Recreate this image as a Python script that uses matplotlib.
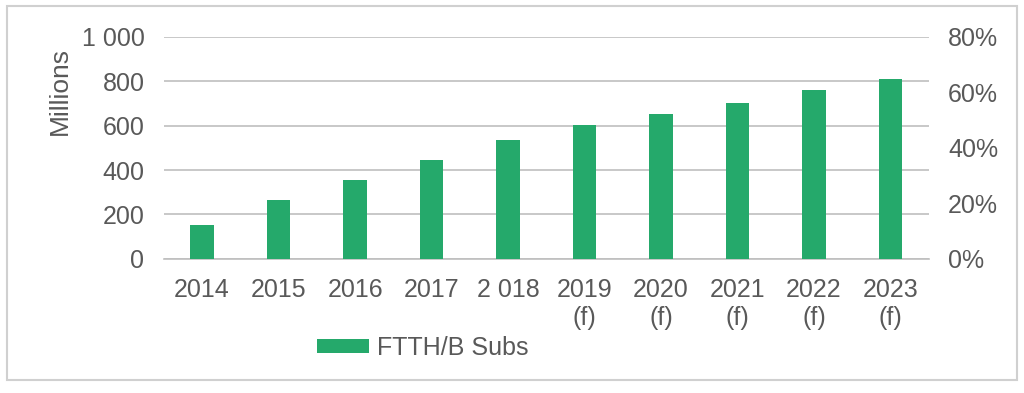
import matplotlib.pyplot as plt
from matplotlib.patches import Rectangle
from matplotlib.ticker import FuncFormatter

# Data
years = ["2014", "2015", "2016", "2017", "2 018",
         "2019\n(f)", "2020\n(f)", "2021\n(f)", "2022\n(f)", "2023\n(f)"]
subs = [153, 265, 355, 446, 533, 601, 652, 703, 758, 809]
left_ticks = [0, 200, 400, 600, 800, 1000]
right_ticks = [0, 0.2, 0.4, 0.6, 0.8]

green = "#25A96B"
grey_text = "#595959"
grid_col = "#bfbfbf"

plt.rcParams['font.family'] = ['Liberation Sans', 'DejaVu Sans']

fig = plt.figure(figsize=(10.24, 3.93), dpi=100)
ax = fig.add_axes([0.160, 0.341, 0.747, 0.566])

x = list(range(len(years)))
ax.bar(x, subs, width=0.31, color=green, label="FTTH/B Subs", zorder=3)

ax.set_xlim(-0.5, len(years) - 0.5)
ax.set_ylim(0, 1000)
ax.set_yticks(left_ticks)
ax.yaxis.set_major_formatter(FuncFormatter(lambda v, p: f"{int(v):,}".replace(",", " ")))
ax.set_xticks(x)
ax.set_xticklabels(years)
ax.grid(axis="y", color=grid_col, linewidth=1.2, zorder=0)
for s in ["top", "right", "left"]:
    ax.spines[s].set_visible(False)
ax.spines["bottom"].set_color(grid_col)
ax.spines["bottom"].set_linewidth(1.2)
ax.tick_params(axis="both", length=0, labelsize=18, labelcolor=grey_text)
ax.tick_params(axis="y", pad=14)
ax.tick_params(axis="x", pad=14)

# y axis title sits high on the left, as in the original
fig.text(60 / 1024, 1 - 91 / 393, "Millions", rotation=90, ha="center", va="center",
         fontsize=19, color=grey_text)

ax2 = ax.twinx()
ax2.set_ylim(0, 0.8)
ax2.set_yticks(right_ticks)
ax2.yaxis.set_major_formatter(FuncFormatter(lambda v, p: f"{v:.0%}"))
for s in ax2.spines.values():
    s.set_visible(False)
ax2.tick_params(axis="y", length=0, labelsize=18, labelcolor=grey_text, pad=14)

leg = ax.legend(loc="center left", bbox_to_anchor=(153 / 765, (259 - 348) / 222.5),
                frameon=False, fontsize=18, handlelength=2.1, handleheight=0.48,
                handletextpad=0.3, borderaxespad=0, borderpad=0)
for t in leg.get_texts():
    t.set_color(grey_text)

# outer frame
fig.patches.append(Rectangle((7 / 1024, 1 - 380 / 393), 1010 / 1024, 374 / 393,
                             transform=fig.transFigure, fill=False,
                             edgecolor="#d0d0d0", linewidth=1.5))

fig.savefig("out.png", dpi=100)
